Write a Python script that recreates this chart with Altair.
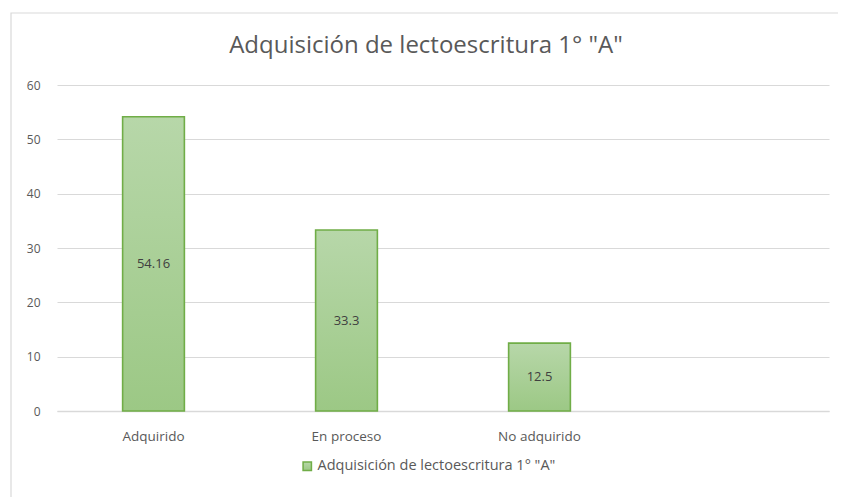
import altair as alt
import pandas as pd

categorias = ["Adquirido", "En proceso", "No adquirido"]
valores = [54.16, 33.3, 12.5]
etiquetas = ["54.16", "33.3", "12.5"]
dominio_x = categorias + [""]
ticks_y = [0, 10, 20, 30, 40, 50, 60]
serie = 'Adquisición de lectoescritura 1° "A"'
titulo = 'Adquisición de lectoescritura 1° "A"'

FONT = "Open Sans"
GRAY = "#595959"

df = pd.DataFrame({
    "categoria": categorias,
    "valor": valores,
    "etiqueta": etiquetas,
    "serie": [serie] * len(categorias),
})

x = alt.X(
    "categoria:N",
    sort=dominio_x,
    scale=alt.Scale(domain=dominio_x, paddingInner=0.68, paddingOuter=0.34),
    axis=alt.Axis(title=None, labelAngle=0, ticks=False, domainColor="#d9d9d9",
                  domainWidth=1.5, labelPadding=18, labelFontSize=13.5,
                  labelColor=GRAY, labelFont=FONT),
)
y = alt.Y(
    "valor:Q",
    scale=alt.Scale(domain=[0, 60], nice=False),
    axis=alt.Axis(title=None, values=ticks_y, domain=False, ticks=False,
                  gridColor="#d9d9d9", gridWidth=1.2, labelPadding=17,
                  labelFontSize=12, labelColor=GRAY, labelFont=FONT),
)

grad = alt.Gradient(
    gradient="linear",
    stops=[alt.GradientStop(color="#b7d7a9", offset=0),
           alt.GradientStop(color="#9cc885", offset=1)],
    x1=0, x2=0, y1=0, y2=1,
)

bars = alt.Chart(df).mark_bar(fill=grad, strokeWidth=1.6).encode(
    x=x,
    y=y,
    stroke=alt.Stroke(
        "serie:N",
        scale=alt.Scale(range=["#70ad47"]),
        legend=alt.Legend(title=None, orient="none", legendX=243, legendY=374,
                          symbolType="square", symbolFillColor="#a9d18e",
                          symbolSize=70, symbolStrokeWidth=1.5,
                          labelFontSize=14.5, labelColor=GRAY, labelFont=FONT,
                          labelOffset=3, labelLimit=400),
    ),
)

labels = alt.Chart(df).mark_text(fontSize=13, color="#404040", font=FONT).encode(
    x=alt.X("categoria:N", sort=dominio_x),
    y=alt.Y("mid:Q"),
    text="etiqueta:N",
).transform_calculate(mid="datum.valor / 2")

frame = alt.Chart(pd.DataFrame({"a": [0]})).mark_rect(
    fillOpacity=0, stroke="#d9d9d9", strokeWidth=1.2
).encode(
    x=alt.value(-46), x2=alt.value(900), y=alt.value(-72), y2=alt.value(500)
)

chart = alt.layer(frame, bars, labels).properties(
    width=772,
    height=326,
    title=alt.TitleParams(titulo, fontSize=24, color=GRAY, font=FONT,
                          fontWeight="normal", anchor="middle", dx=-17,
                          frame="group", offset=0, dy=46),
    autosize=alt.AutoSizeParams(type="none"),
    padding={"left": 49, "top": 77, "right": 9, "bottom": 86},
).configure(font=FONT).configure_view(strokeWidth=0)

chart.save("out.html", embed_options={"renderer": "svg", "actions": False})
